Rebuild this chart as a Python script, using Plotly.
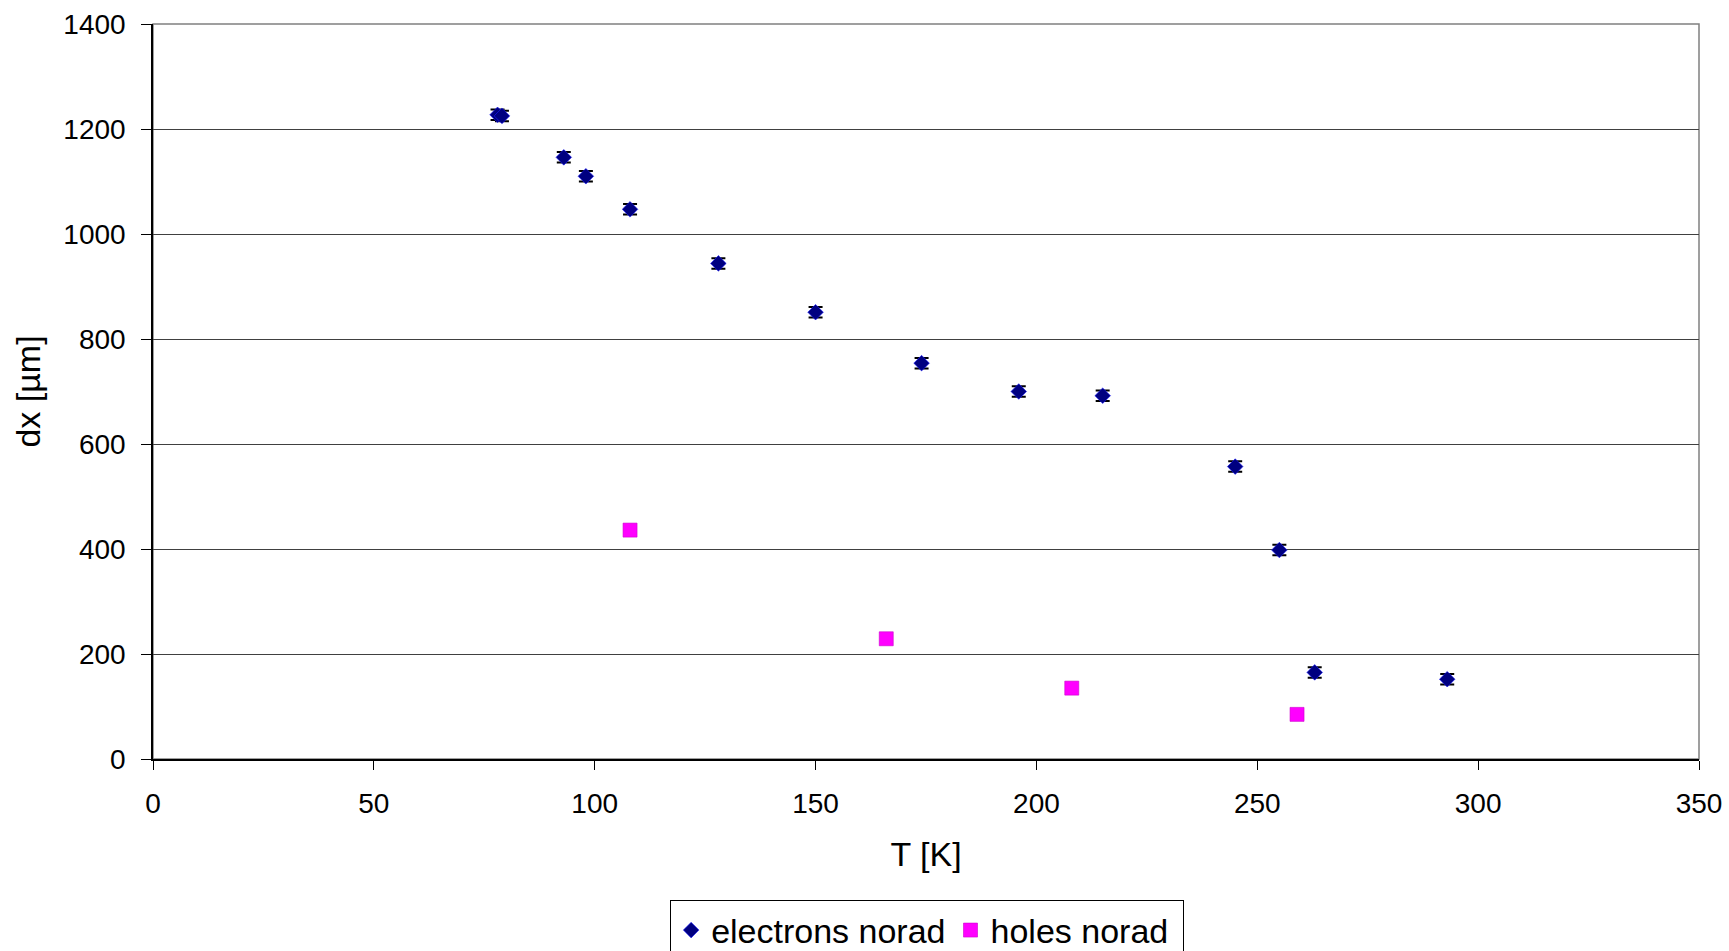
import plotly.graph_objects as go

# Temperature [K] and drift length dx [µm]
electrons_T = [78, 79, 93, 98, 108, 128, 150, 174, 196, 215, 245, 255, 263, 293]
electrons_dx = [1227, 1225, 1146, 1110, 1047, 944, 851, 754, 700, 692, 557, 398, 165, 152]
electrons_err = [10, 10, 10, 10, 10, 10, 10, 10, 10, 10, 10, 10, 10, 10]

holes_T = [108, 166, 208, 259]
holes_dx = [436, 229, 135, 85]

x_ticks = [0, 50, 100, 150, 200, 250, 300, 350]
y_ticks = [0, 200, 400, 600, 800, 1000, 1200, 1400]

FONT = "Liberation Sans, Arial, sans-serif"

fig = go.Figure()

fig.add_trace(go.Scatter(
    x=electrons_T, y=electrons_dx,
    mode="markers",
    name="electrons norad",
    marker=dict(symbol="diamond", size=12, color="#000080",
                line=dict(color="#1a1aff", width=0.6)),
    error_y=dict(type="data", array=electrons_err, visible=True,
                 color="black", thickness=2, width=7),
))

fig.add_trace(go.Scatter(
    x=holes_T, y=holes_dx,
    mode="markers",
    name="holes norad&nbsp;",
    marker=dict(symbol="square", size=14, color="#ff00ff",
                line=dict(color="#cc00cc", width=0.6)),
))

# gray frame around the plotting area
fig.add_shape(type="rect", xref="paper", yref="paper", x0=0, y0=0, x1=1, y1=1,
              line=dict(color="#808080", width=1.5), layer="below")

fig.update_layout(
    width=1729, height=951,
    margin=dict(l=153, r=30, t=24, b=192, autoexpand=False),
    paper_bgcolor="white", plot_bgcolor="white",
    font=dict(family=FONT, size=28, color="black"),
    showlegend=True,
    legend=dict(
        orientation="h",
        x=0.3345, xanchor="left",
        y=-0.1925, yanchor="top",
        bordercolor="black", borderwidth=1,
        bgcolor="white",
        font=dict(family=FONT, size=34, color="black"),
        itemsizing="trace",
    ),
    xaxis=dict(
        range=[0, 350], tickvals=x_ticks, ticktext=[str(v) for v in x_ticks],
        showgrid=False, zeroline=False,
        showline=True, linecolor="black", linewidth=1.5,
        ticks="outside", ticklen=9, tickwidth=1.2, tickcolor="black",
        ticklabelstandoff=10, tickfont=dict(size=28),
        title=dict(text="T [K]", standoff=24, font=dict(size=34)),
    ),
    yaxis=dict(
        range=[0, 1400], tickvals=y_ticks, ticktext=[str(v) for v in y_ticks],
        showgrid=True, gridcolor="#404040", gridwidth=1,
        zeroline=False,
        showline=True, linecolor="black", linewidth=1.5,
        ticks="outside", ticklen=10, tickwidth=1.2, tickcolor="black",
        ticklabelstandoff=10, tickfont=dict(size=28),
        title=dict(text="dx [µm]", standoff=12, font=dict(size=34)),
    ),
)

fig.write_html("out.html")
